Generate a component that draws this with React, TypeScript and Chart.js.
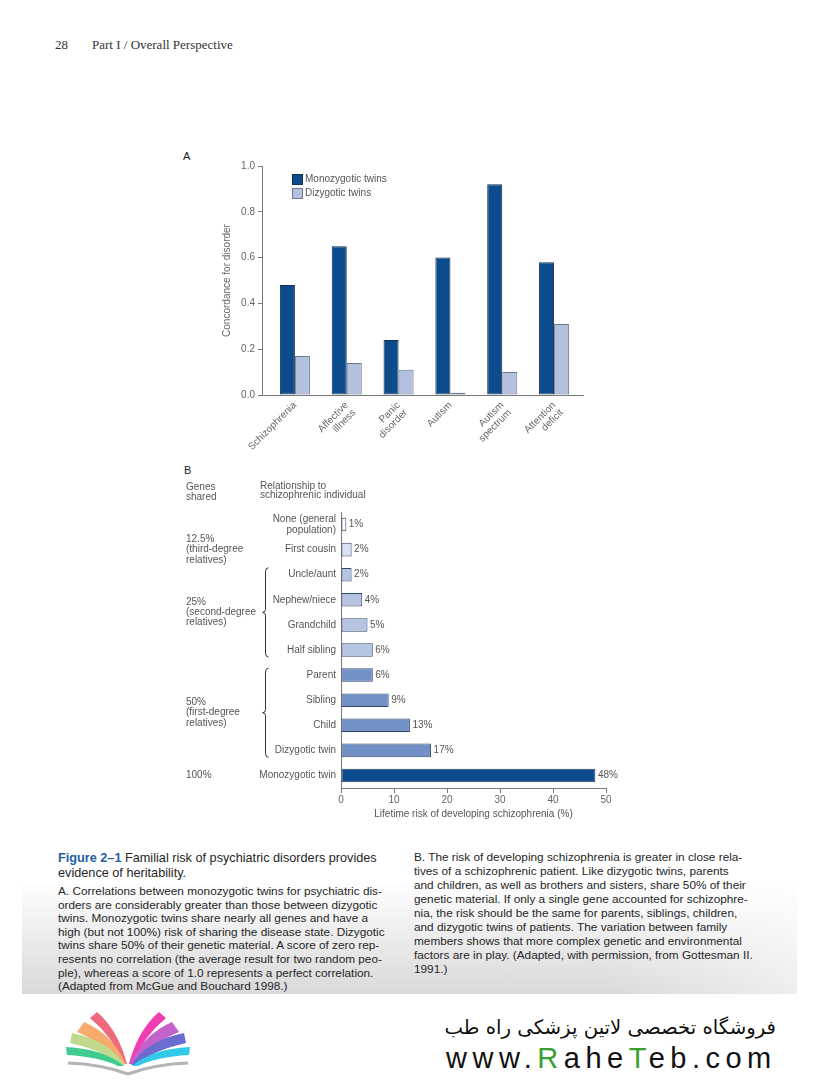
import React, { useEffect, useRef } from "react";
import { Chart, registerables } from "chart.js";

Chart.register(...registerables);

const FONT = "'Liberation Sans', Arial, Helvetica, sans-serif";
Chart.defaults.font.family = FONT;

// ---------- Panel A data ----------
const disorderLabels: string[][] = [
  ["Schizophrenia"],
  ["Affective", "illness"],
  ["Panic", "disorder"],
  ["Autism"],
  ["Autism", "spectrum"],
  ["Attention", "deficit"],
];
const monozygoticConcordance = [0.48, 0.65, 0.24, 0.6, 0.92, 0.58];
const dizygoticConcordance = [0.17, 0.14, 0.11, 0.01, 0.1, 0.31];
const concordanceTicks = [0, 0.2, 0.4, 0.6, 0.8, 1.0];
const seriesNames = ["Monozygotic twins", "Dizygotic twins"];

// ---------- Panel B data ----------
const relationships: (string | string[])[] = [
  ["None (general", "population)"],
  "First cousin",
  "Uncle/aunt",
  "Nephew/niece",
  "Grandchild",
  "Half sibling",
  "Parent",
  "Sibling",
  "Child",
  "Dizygotic twin",
  "Monozygotic twin",
];
const lifetimeRisk = [1, 2, 2, 4, 5, 6, 6, 9, 13, 17, 48];
const riskLabels = ["1%", "2%", "2%", "4%", "5%", "6%", "6%", "9%", "13%", "17%", "48%"];
const riskTicks = [0, 10, 20, 30, 40, 50];
const geneGroupLabels = [
  ["12.5%", "(third-degree", "relatives)"],
  ["25%", "(second-degree", "relatives)"],
  ["50%", "(first-degree", "relatives)"],
  ["100%"],
];
const geneGroupFirst = [1, 2, 6, 10];
const geneGroupLast = [1, 5, 9, 10];
const geneGroupBrace = [false, true, true, false];

// styles
const MZ_COLOR = "#0c4b8c";
const DZ_COLOR = "#b3c1de";
const riskBarColors = [
  "#ffffff",
  "#dae2f1",
  "#b5c4e1",
  "#b5c4e1",
  "#b5c4e1",
  "#b5c4e1",
  "#7191c6",
  "#7191c6",
  "#7191c6",
  "#7191c6",
  "#0c4b8c",
];

function ConcordanceChart() {
  const ref = useRef<HTMLCanvasElement>(null);
  useEffect(() => {
    const chart = new Chart(ref.current as HTMLCanvasElement, {
      type: "bar",
      data: {
        datasets: [
          {
            label: seriesNames[0],
            data: monozygoticConcordance.map((v, i) => ({ x: i, y: v })),
            backgroundColor: MZ_COLOR,
            borderColor: "#14304f",
            borderWidth: 1,
            borderSkipped: false,
            categoryPercentage: 0.58,
            barPercentage: 1,
          },
          {
            label: seriesNames[1],
            data: dizygoticConcordance.map((v, i) => ({ x: i, y: v })),
            backgroundColor: DZ_COLOR,
            borderColor: "#6d7891",
            borderWidth: 1,
            borderSkipped: false,
            categoryPercentage: 0.58,
            barPercentage: 1,
          },
        ],
      } as any,
      options: {
        animation: false,
        responsive: false,
        layout: { padding: { top: 26, right: 7, left: 0, bottom: 0 } },
        plugins: { legend: { display: false }, tooltip: { enabled: false } },
        scales: {
          x: {
            type: "linear",
            min: -0.635,
            max: 5.558,
            offset: false,
            grid: { display: false, drawTicks: false },
            border: { color: "#7a7a7a" },
            afterBuildTicks: (s: any) => {
              s.ticks = disorderLabels.map((_, i) => ({ value: i }));
            },
            ticks: {
              autoSkip: false,
              maxRotation: 45,
              minRotation: 45,
              padding: 5,
              color: "#666",
              font: { size: 10, lineHeight: 1.05 },
              callback: (v: any) => disorderLabels[Number(v)],
            },
            afterFit: (s: any) => {
              s.height = 65;
            },
          },
          y: {
            min: 0,
            max: 1,
            afterBuildTicks: (s: any) => {
              s.ticks = concordanceTicks.map((v) => ({ value: v }));
            },
            ticks: {
              color: "#666",
              font: { size: 10 },
              padding: 3,
              callback: (v: any) => Number(v).toFixed(1),
            },
            grid: { drawOnChartArea: false, tickLength: 4, color: "#7a7a7a" },
            border: { color: "#7a7a7a" },
            title: {
              display: true,
              text: "Concordance for disorder",
              color: "#666",
              font: { size: 10 },
              padding: { top: 51, bottom: 0 },
            },
            afterFit: (s: any) => {
              s.width = 92;
            },
          },
        },
      } as any,
    });
    return () => chart.destroy();
  }, []);
  return (
    <canvas
      ref={ref}
      width={420}
      height={320}
      style={{ position: "absolute", left: 170, top: 140, width: 420, height: 320 }}
    />
  );
}

function drawBrace(ctx: CanvasRenderingContext2D, x: number, top: number, bottom: number) {
  const mid = (top + bottom) / 2;
  ctx.beginPath();
  ctx.moveTo(x + 3, top);
  ctx.quadraticCurveTo(x, top, x, top + 4);
  ctx.lineTo(x, mid - 3);
  ctx.quadraticCurveTo(x, mid, x - 3, mid);
  ctx.quadraticCurveTo(x, mid, x, mid + 3);
  ctx.lineTo(x, bottom - 4);
  ctx.quadraticCurveTo(x, bottom, x + 3, bottom);
  ctx.stroke();
}

const valueLabelPlugin = {
  id: "valueLabels",
  afterDatasetsDraw(chart: any) {
    const ctx = chart.ctx as CanvasRenderingContext2D;
    const meta = chart.getDatasetMeta(0);
    ctx.save();
    ctx.font = `10px ${FONT}`;
    ctx.fillStyle = "#555";
    ctx.textAlign = "left";
    ctx.textBaseline = "middle";
    meta.data.forEach((bar: any, i: number) => {
      ctx.fillText(riskLabels[i], bar.x + 2.5, bar.y);
    });
    ctx.restore();
  },
};

const geneGroupPlugin = {
  id: "geneGroups",
  afterDraw(chart: any) {
    const ctx = chart.ctx as CanvasRenderingContext2D;
    const y = chart.scales.y;
    ctx.save();
    ctx.font = `10px ${FONT}`;
    ctx.fillStyle = "#555";
    ctx.textAlign = "left";
    ctx.textBaseline = "middle";
    ctx.fillText("Genes", 6, 27.5);
    ctx.fillText("shared", 6, 37.5);
    ctx.fillText("Relationship to", 80, 26);
    ctx.fillText("schizophrenic individual", 80, 35.5);
    ctx.strokeStyle = "#333";
    ctx.lineWidth = 1;
    geneGroupLabels.forEach((lines, g) => {
      const top = y.getPixelForTick(geneGroupFirst[g]);
      const bottom = y.getPixelForTick(geneGroupLast[g]);
      const mid = (top + bottom) / 2;
      lines.forEach((t, k) => {
        ctx.fillText(t, 6, mid + (k - (lines.length - 1) / 2) * 10.2);
      });
      if (geneGroupBrace[g]) drawBrace(ctx, 85.5, top - 7, bottom + 7);
    });
    ctx.restore();
  },
};

function RiskChart() {
  const ref = useRef<HTMLCanvasElement>(null);
  useEffect(() => {
    const chart = new Chart(ref.current as HTMLCanvasElement, {
      type: "bar",
      data: {
        labels: relationships,
        datasets: [
          {
            data: lifetimeRisk,
            backgroundColor: riskBarColors,
            borderColor: "#34476a",
            borderWidth: 1,
            borderSkipped: false,
            categoryPercentage: 1,
            barPercentage: 0.54,
          },
        ],
      } as any,
      options: {
        indexAxis: "y",
        animation: false,
        responsive: false,
        layout: { padding: { top: 52, right: 14, left: 0, bottom: 0 } },
        plugins: { legend: { display: false }, tooltip: { enabled: false } },
        scales: {
          x: {
            min: 0,
            max: 50,
            afterBuildTicks: (s: any) => {
              s.ticks = riskTicks.map((v) => ({ value: v }));
            },
            ticks: { color: "#666", font: { size: 10 }, padding: 1 },
            grid: { drawOnChartArea: false, tickLength: 5, color: "#7a7a7a" },
            border: { color: "#7a7a7a" },
            title: {
              display: true,
              text: "Lifetime risk of developing schizophrenia (%)",
              color: "#555",
              font: { size: 10 },
              padding: { top: 0, bottom: 10 },
            },
            afterFit: (s: any) => {
              s.height = 42;
            },
          },
          y: {
            grid: { display: false, drawTicks: false },
            border: { color: "#7a7a7a" },
            ticks: { color: "#555", font: { size: 10, lineHeight: 1.05 }, padding: 5, autoSkip: false },
            afterFit: (s: any) => {
              s.width = 161;
            },
          },
        },
      } as any,
      plugins: [valueLabelPlugin, geneGroupPlugin],
    });
    return () => chart.destroy();
  }, []);
  return (
    <canvas
      ref={ref}
      width={440}
      height={370}
      style={{ position: "absolute", left: 180, top: 460, width: 440, height: 370 }}
    />
  );
}

const leftCaption = [
  "orders are considerably greater than those between dizygotic",
  "twins. Monozygotic twins share nearly all genes and have a",
  "high (but not 100%) risk of sharing the disease state. Dizygotic",
  "twins share 50% of their genetic material. A score of zero rep-",
  "resents no correlation (the average result for two random peo-",
  "ple), whereas a score of 1.0 represents a perfect correlation.",
  "(Adapted from McGue and Bouchard 1998.)",
];
const rightCaption = [
  "tives of a schizophrenic patient. Like dizygotic twins, parents",
  "and children, as well as brothers and sisters, share 50% of their",
  "genetic material. If only a single gene accounted for schizophre-",
  "nia, the risk should be the same for parents, siblings, children,",
  "and dizygotic twins of patients. The variation between family",
  "members shows that more complex genetic and environmental",
  "factors are in play. (Adapted, with permission, from Gottesman II.",
  "1991.)",
];

function Logo() {
  const left = [
    { c: "#ef6a7c", d: "M97,1012 L90,1018 Q112,1036 124,1064 L127,1064 Q118,1030 97,1012 Z" },
    { c: "#f6aa6c", d: "M84,1022 L77,1032 Q106,1044 122,1064 L126,1064 Q112,1034 84,1022 Z" },
    { c: "#bfda8c", d: "M72,1033 L70,1043 Q102,1050 120,1065 L125,1065 Q108,1040 72,1033 Z" },
    { c: "#3fca90", d: "M66,1047 L67,1055 Q100,1057 118,1066 L124,1066 Q104,1049 66,1047 Z" },
  ];
  const right = [
    { c: "#f03db2", d: "M159,1012 L166,1018 Q144,1036 132,1064 L129,1064 Q138,1030 159,1012 Z" },
    { c: "#c362c9", d: "M172,1022 L179,1032 Q150,1044 134,1064 L130,1064 Q144,1034 172,1022 Z" },
    { c: "#6b6cd2", d: "M184,1033 L186,1043 Q154,1050 136,1065 L131,1065 Q148,1040 184,1033 Z" },
    { c: "#32c9ea", d: "M190,1047 L189,1055 Q156,1057 138,1066 L132,1066 Q152,1049 190,1047 Z" },
  ];
  return (
    <svg
      width={220}
      height={80}
      viewBox="0 1000 220 80"
      style={{ position: "absolute", left: 0, top: 1000 }}
    >
      {left.concat(right).map((r, i) => (
        <path key={i} d={r.d} fill={r.c} />
      ))}
      <path d="M68,1063 Q100,1064 128,1074 Q156,1064 188,1063" stroke="#b3b3b3" strokeWidth={3} fill="none" />
    </svg>
  );
}

export default function App() {
  const abs = (left: number, top: number, extra: React.CSSProperties = {}): React.CSSProperties => ({
    position: "absolute",
    left,
    top,
    whiteSpace: "pre",
    ...extra,
  });
  const chartText: React.CSSProperties = { fontFamily: FONT, fontSize: 10, lineHeight: "12px", color: "#555" };
  const body: React.CSSProperties = { fontFamily: FONT, fontSize: 11.8, color: "#262626" };
  return (
    <div
      style={{
        position: "absolute",
        left: 0,
        top: 0,
        width: 820,
        height: 1080,
        overflow: "hidden",
        background: "#ffffff",
      }}
    >
      {/* page header */}
      <div style={abs(55, 37, { fontFamily: "'Liberation Serif', 'Times New Roman', serif", fontSize: 13, lineHeight: "16px", color: "#333" })}>28</div>
      <div style={abs(92, 37, { fontFamily: "'Liberation Serif', 'Times New Roman', serif", fontSize: 13, lineHeight: "16px", color: "#333" })}>
        Part I / Overall Perspective
      </div>

      {/* shaded scan area behind caption */}
      <div
        style={{
          position: "absolute",
          left: 22,
          top: 880,
          width: 775,
          height: 114,
          background:
            "linear-gradient(to right, rgba(255,255,255,0) 0%, rgba(255,255,255,0) 75%, rgba(255,255,255,0.55) 100%), linear-gradient(to bottom, rgba(218,218,218,0) 0%, #d9d9d9 100%)",
        }}
      />

      {/* panel A */}
      <div style={abs(183, 150, { fontFamily: FONT, fontSize: 11, lineHeight: "13px", color: "#222" })}>A</div>
      <ConcordanceChart />
      <div style={{ position: "absolute", left: 292, top: 174, width: 9, height: 9, background: MZ_COLOR, border: "1px solid #14304f" }} />
      <div style={{ position: "absolute", left: 292, top: 188, width: 9, height: 9, background: DZ_COLOR, border: "1px solid #6d7891" }} />
      <div style={abs(305, 173, chartText)}>{seriesNames[0]}</div>
      <div style={abs(305, 187, chartText)}>{seriesNames[1]}</div>

      {/* panel B */}
      <div style={abs(184, 464, { fontFamily: FONT, fontSize: 11, lineHeight: "13px", color: "#222" })}>B</div>
      <RiskChart />

      {/* caption left */}
      <div style={abs(58, 850.5, { fontFamily: FONT, fontSize: 12.7, lineHeight: "15px", color: "#262626" })}>
        <span style={{ fontWeight: "bold", color: "#1f5e9f" }}>Figure 2–1</span>
        {" Familial risk of psychiatric disorders provides\nevidence of heritability."}
      </div>
      <div style={abs(58, 885, { ...body, lineHeight: "13.6px" })}>
        {"A. Correlations between monozygotic twins for psychiatric dis-\n" + leftCaption.join("\n")}
      </div>

      {/* caption right */}
      <div style={abs(414, 850, { ...body, lineHeight: "14px" })}>
        {"B. The risk of developing schizophrenia is greater in close rela-\n" + rightCaption.join("\n")}
      </div>

      {/* footer */}
      <Logo />
      <div
        style={{
          position: "absolute",
          right: 44,
          top: 1014,
          fontFamily: "'DejaVu Sans', sans-serif",
          fontSize: 19.7,
          lineHeight: "28px",
          color: "#111",
          direction: "rtl",
          whiteSpace: "nowrap",
        }}
      >
        فروشگاه تخصصی لاتین پزشکی  راه طب
      </div>
      <div
        style={{
          position: "absolute",
          left: 446,
          top: 1042,
          fontFamily: FONT,
          fontSize: 29,
          lineHeight: "32px",
          letterSpacing: 5.5,
          color: "#111",
          whiteSpace: "nowrap",
        }}
      >
        www.<span style={{ color: "#3ba02d" }}>R</span>ahe<span style={{ color: "#3ba02d" }}>T</span>eb.com
      </div>
    </div>
  );
}
